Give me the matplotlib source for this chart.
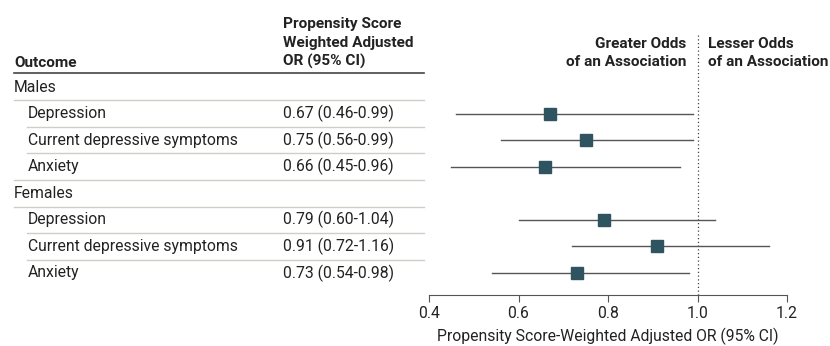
import matplotlib
matplotlib.use("Agg")
from matplotlib import pyplot as plt
from matplotlib import transforms
from matplotlib.lines import Line2D

plt.rcParams['font.family'] = ['Roboto', 'DejaVu Sans']

groups = ["Males", "Females"]
outcomes = ["Depression", "Current depressive symptoms", "Anxiety"]
or_males = [0.67, 0.75, 0.66]
lo_males = [0.46, 0.56, 0.45]
hi_males = [0.99, 0.99, 0.96]
or_females = [0.79, 0.91, 0.73]
lo_females = [0.60, 0.72, 0.54]
hi_females = [1.04, 1.16, 0.98]
xticks = [0.4, 0.6, 0.8, 1.0, 1.2]

W, H = 830, 346
fig = plt.figure(figsize=(W / 100, H / 100), dpi=100)

def fx(px):
    return px / W

def fy(py):
    return 1 - py / H

# forest plot axes
ax = fig.add_axes([fx(429), fy(295), fx(787) - fx(429), fy(33) - fy(295)])
row0, step = 87, 26.57
ax.set_ylim((295 - row0) / step, (33 - row0) / step)
ax.set_xlim(0.4, 1.2)

txtc = "#222222"
markc = "#2e5462"
fs = 11.3
fsb = 11.1

rows = []
r = 0
for g, ors, los, his in [(groups[0], or_males, lo_males, hi_males),
                         (groups[1], or_females, lo_females, hi_females)]:
    rows.append((r, g, None))
    r += 1
    for name, o, lo, hi in zip(outcomes, ors, los, his):
        rows.append((r, name, (o, lo, hi)))
        r += 1

trans = transforms.blended_transform_factory(fig.transFigure, ax.transData)

for r, name, vals in rows:
    if vals is None:
        fig.text(fx(14), r, name, transform=trans, va="center", ha="left",
                 fontsize=fs, color=txtc)
    else:
        o, lo, hi = vals
        fig.text(fx(28), r, name, transform=trans, va="center", ha="left",
                 fontsize=fs, color=txtc)
        fig.text(fx(283), r, "%.2f (%.2f-%.2f)" % (o, lo, hi), transform=trans,
                 va="center", ha="left", fontsize=fs, color=txtc)
        ax.plot([lo, hi], [r, r], color="#555555", lw=1.0, zorder=2)
        ax.plot([o], [r], marker="s", ms=8, color=markc, zorder=3, ls="none")

# separator lines
for r, name, vals in rows[:-1]:
    nxt = rows[r + 1]
    x0 = 14 if nxt[2] is None or vals is None else 27
    fig.add_artist(Line2D([fx(x0), fx(424)], [r + 0.5, r + 0.5], transform=trans,
                          color="#cfcdc4", lw=1.0))
fig.add_artist(Line2D([fx(14), fx(424)], [fy(73), fy(73)], color="#444444", lw=1.2))

# header text
fig.text(fx(14), fy(67), "Outcome", fontsize=fsb, fontweight="bold", color=txtc,
         va="baseline")
fig.text(fx(283), fy(66), "Propensity Score\nWeighted Adjusted\nOR (95% CI)",
         fontsize=fsb, fontweight="bold", color=txtc, va="baseline", linespacing=1.4)
fig.text(fx(686), fy(66), "Greater Odds\nof an Association", fontsize=fsb,
         fontweight="bold", color=txtc, ha="right", va="baseline", linespacing=1.4)
fig.text(fx(708), fy(66), "Lesser Odds\nof an Association", fontsize=fsb,
         fontweight="bold", color=txtc, ha="left", va="baseline", linespacing=1.4)

ax.axvline(1.0, color="#444444", lw=0.9, ls=(0, (1, 2)), zorder=1)

for s in ["top", "right", "left"]:
    ax.spines[s].set_visible(False)
ax.spines["bottom"].set_color("#555555")
ax.set_yticks([])
ax.set_xticks(xticks)
ax.set_xticklabels(["%.1f" % t for t in xticks], fontsize=fs, color=txtc)
ax.tick_params(axis="x", direction="out", length=5, color="#555555", pad=3)
ax.set_xlabel("Propensity Score-Weighted Adjusted OR (95% CI)", fontsize=fs,
              color=txtc, labelpad=5)
ax.patch.set_visible(False)

fig.savefig("out.png", dpi=100)
